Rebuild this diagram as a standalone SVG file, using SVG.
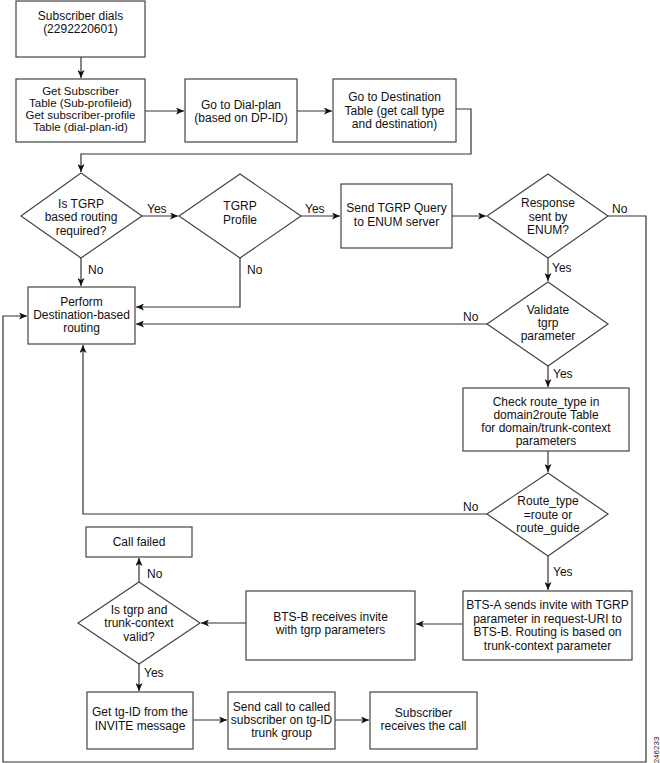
<svg xmlns="http://www.w3.org/2000/svg" width="660" height="763" viewBox="0 0 660 763">
<style>
.b{fill:#fff;stroke:#444;stroke-width:1.2}
.t{font-family:"Liberation Sans",Arial,sans-serif;font-size:12px;fill:#111;text-anchor:middle}
.s{font-size:11.5px}
.l{font-family:"Liberation Sans",Arial,sans-serif;font-size:12px;fill:#111}
.c{fill:none;stroke:#333;stroke-width:1.2}
</style>
<defs>
<marker id="a" markerWidth="9" markerHeight="7" refX="8" refY="3.5" orient="auto" markerUnits="userSpaceOnUse">
<path d="M0,0 L8,3.5 L0,7 L2,3.5 z" fill="#111"/>
</marker>
</defs>
<rect width="660" height="763" fill="#fff"/>
<g id="connectors">
<path class="c" d="M81,57 V78" marker-end="url(#a)"/>
<path class="c" d="M145,111 H184" marker-end="url(#a)"/>
<path class="c" d="M297,111 H332" marker-end="url(#a)"/>
<path class="c" d="M456,109 H471 V154 H81 V172" marker-end="url(#a)"/>
<path class="c" d="M142,216 H178" marker-end="url(#a)"/>
<text class="l" x="147" y="213">Yes</text>
<path class="c" d="M301,216 H340" marker-end="url(#a)"/>
<text class="l" x="305" y="213">Yes</text>
<path class="c" d="M452,216 H486" marker-end="url(#a)"/>
<path class="c" d="M81,258 V286" marker-end="url(#a)"/>
<text class="l" x="88" y="274">No</text>
<path class="c" d="M240,258 V307 H136" marker-end="url(#a)"/>
<text class="l" x="247" y="274">No</text>
<path class="c" d="M608,216 H646 V762 H3 V316 H27" marker-end="url(#a)"/>
<text class="l" x="612" y="213">No</text>
<path class="c" d="M548,258 V281" marker-end="url(#a)"/>
<text class="l" x="552" y="272">Yes</text>
<path class="c" d="M487,324 H136" marker-end="url(#a)"/>
<text class="l" x="463" y="321">No</text>
<path class="c" d="M548,366 V387" marker-end="url(#a)"/>
<text class="l" x="553" y="378">Yes</text>
<path class="c" d="M548,451 V472" marker-end="url(#a)"/>
<path class="c" d="M487,514 H83 V345" marker-end="url(#a)"/>
<text class="l" x="463" y="511">No</text>
<path class="c" d="M548,556 V590" marker-end="url(#a)"/>
<text class="l" x="553" y="576">Yes</text>
<path class="c" d="M463,624 H416" marker-end="url(#a)"/>
<path class="c" d="M246,623 H201" marker-end="url(#a)"/>
<path class="c" d="M139,582 V558" marker-end="url(#a)"/>
<text class="l" x="147" y="578">No</text>
<path class="c" d="M139,664 V691" marker-end="url(#a)"/>
<text class="l" x="144" y="677">Yes</text>
<path class="c" d="M193,720 H227" marker-end="url(#a)"/>
<path class="c" d="M335,720 H369" marker-end="url(#a)"/>
</g>
<g id="n1"><rect class="b" x="16" y="1" width="129" height="56"/>
<text class="t" x="80.5" y="20">Subscriber dials</text><text class="t" x="80.5" y="33">(2292220601)</text></g>
<g id="n2"><rect class="b" x="16" y="79" width="129" height="63"/>
<text class="t s" x="80.5" y="94.5">Get Subscriber</text><text class="t s" x="80.5" y="106.5">Table (Sub-profileid)</text><text class="t s" x="80.5" y="118.5">Get subscriber-profile</text><text class="t s" x="80.5" y="130.5">Table (dial-plan-id)</text></g>
<g id="n3"><rect class="b" x="185" y="79" width="112" height="63"/>
<text class="t" x="241" y="108.5">Go to Dial-plan</text><text class="t" x="241" y="122">(based on DP-ID)</text></g>
<g id="n4"><rect class="b" x="333" y="79" width="123" height="63"/>
<text class="t" x="394.5" y="101">Go to Destination</text><text class="t" x="394.5" y="114.5">Table (get call type</text><text class="t" x="394.5" y="127.5">and destination)</text></g>
<g id="d1"><polygon class="b" points="81,173 142,216 81,258 21,216"/>
<text class="t" x="81" y="208">Is TGRP</text><text class="t" x="81" y="221">based routing</text><text class="t" x="81" y="235">required?</text></g>
<g id="d2"><polygon class="b" points="240,174 301,216 240,258 179,216"/>
<text class="t" x="240" y="210">TGRP</text><text class="t" x="240" y="224">Profile</text></g>
<g id="n5"><rect class="b" x="341" y="184" width="111" height="64"/>
<text class="t" x="396.5" y="212">Send TGRP Query</text><text class="t" x="396.5" y="226">to ENUM server</text></g>
<g id="d3"><polygon class="b" points="548,174 608,216 548,258 487,216"/>
<text class="t" x="548" y="207">Response</text><text class="t" x="548" y="221">sent by</text><text class="t" x="548" y="234">ENUM?</text></g>
<g id="n6"><rect class="b" x="28" y="287" width="107" height="57"/>
<text class="t" x="81.5" y="306">Perform</text><text class="t" x="81.5" y="319">Destination-based</text><text class="t" x="81.5" y="332">routing</text></g>
<g id="d4"><polygon class="b" points="548,282 608,324 548,366 487,324"/>
<text class="t" x="548" y="314">Validate</text><text class="t" x="548" y="327">tgrp</text><text class="t" x="548" y="340">parameter</text></g>
<g id="n7"><rect class="b" x="463" y="388" width="166" height="63"/>
<text class="t" x="546" y="406">Check route_type in</text><text class="t" x="546" y="418.5">domain2route Table</text><text class="t" x="546" y="431.5">for domain/trunk-context</text><text class="t" x="546" y="445">parameters</text></g>
<g id="d5"><polygon class="b" points="548,473 608,514 548,556 487,514"/>
<text class="t" x="548" y="505">Route_type</text><text class="t" x="548" y="519">=route or</text><text class="t" x="548" y="532">route_guide</text></g>
<g id="n8"><rect class="b" x="463" y="591" width="169" height="69"/>
<text class="t" x="547.5" y="609">BTS-A sends invite with TGRP</text><text class="t" x="547.5" y="623">parameter in request-URI to</text><text class="t" x="547.5" y="636">BTS-B. Routing is based on</text><text class="t" x="547.5" y="650">trunk-context parameter</text></g>
<g id="n9"><rect class="b" x="246" y="591" width="169" height="69"/>
<text class="t" x="330.5" y="621">BTS-B receives invite</text><text class="t" x="330.5" y="634">with tgrp parameters</text></g>
<g id="d6"><polygon class="b" points="139,582 200,623 139,664 78,623"/>
<text class="t" x="139" y="614">Is tgrp and</text><text class="t" x="139" y="627">trunk-context</text><text class="t" x="139" y="641">valid?</text></g>
<g id="n10"><rect class="b" x="86" y="527" width="106" height="30"/>
<text class="t" x="139" y="546">Call failed</text></g>
<g id="n11"><rect class="b" x="87" y="692" width="106" height="57"/>
<text class="t" x="140" y="716">Get tg-ID from the</text><text class="t" x="140" y="730">INVITE message</text></g>
<g id="n12"><rect class="b" x="228" y="692" width="107" height="57"/>
<text class="t" x="281.5" y="711">Send call to called</text><text class="t" x="281.5" y="723.5">subscriber on tg-ID</text><text class="t" x="281.5" y="736.5">trunk group</text></g>
<g id="n13"><rect class="b" x="370" y="692" width="107" height="57"/>
<text class="t" x="423.5" y="717">Subscriber</text><text class="t" x="423.5" y="730">receives the call</text></g>
<text x="659" y="750" transform="rotate(-90 659 750)" font-family="Liberation Sans,Arial,sans-serif" font-size="8" fill="#222" text-anchor="middle">246233</text>
</svg>
